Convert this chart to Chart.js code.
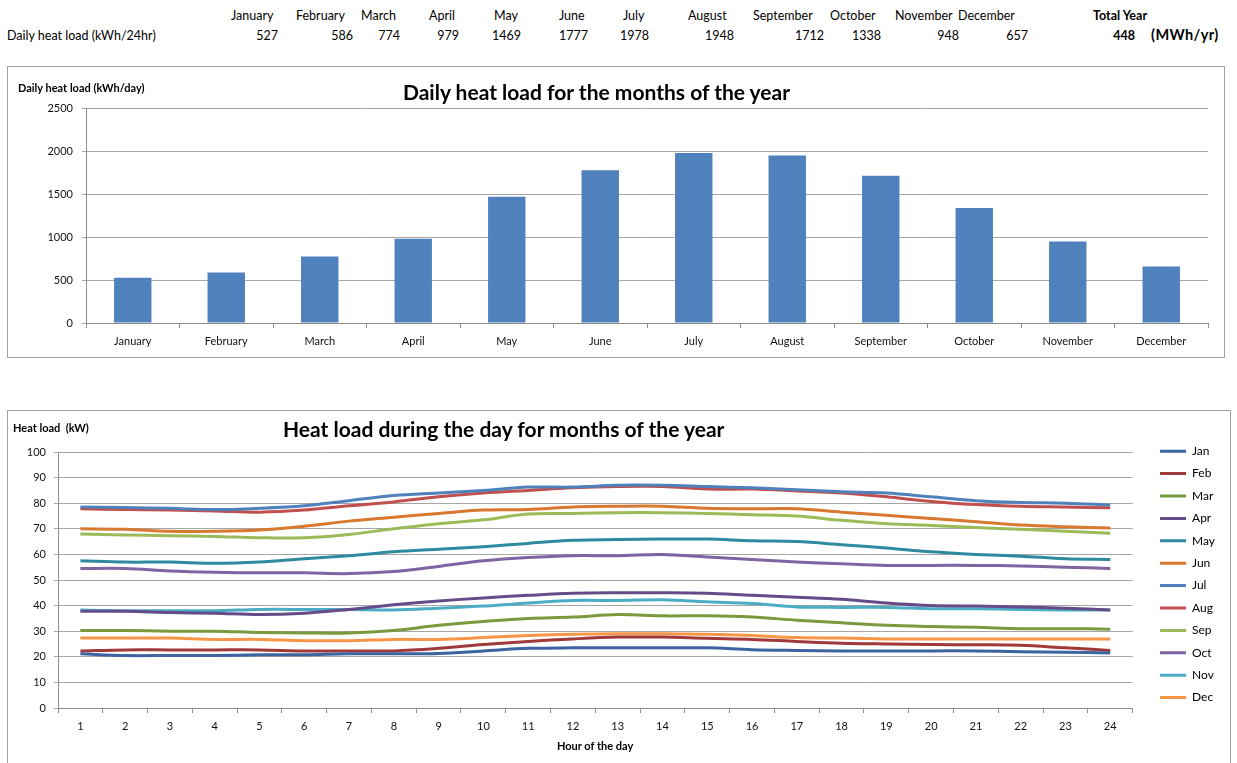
<!DOCTYPE html>
<html>
<head>
<meta charset="utf-8">
<script src="https://cdn.jsdelivr.net/npm/chart.js@4.4.1/dist/chart.umd.min.js"></script>
<style>
  body { margin: 0; background: #fff; font-family: Lato, "Open Sans", sans-serif; color: #000; }
  .abs { position: absolute; white-space: nowrap; }
  .box { position: absolute; border: 1px solid #a0a0a0; background: #fff; }
  .box canvas { position: absolute; left: 0; top: 0; }
  .cell { font-size: 12.5px; }
  .bold { font-weight: bold; }
</style>
</head>
<body>
<div id="table"></div>

<div class="box" style="left:7px; top:66px; width:1216px; height:290px;">
  <canvas id="barChart" width="1216" height="290"></canvas>
</div>
<div class="abs bold" style="left:18px; top:81px; font-size:11px;">Daily heat load (kWh/day)</div>
<div class="abs bold" style="left:403px; top:79px; font-size:21px;">Daily heat load for the months of the year</div>

<div class="box" style="left:7px; top:410px; width:1222px; height:360px;">
  <canvas id="lineChart" width="1222" height="352"></canvas>
</div>
<div class="abs bold" style="left:13px; top:421px; font-size:11px;">Heat load&nbsp; (kW)</div>
<div class="abs bold" style="left:283px; top:416px; font-size:21px;">Heat load during the day for months of the year</div>
<div class="abs bold" style="left:557px; top:739px; font-size:11px;">Hour of the day</div>

<script>
// monthly data
const months = ['January', 'February', 'March', 'April', 'May', 'June', 'July', 'August', 'September', 'October', 'November', 'December'];
const dailyLoad = [527, 586, 774, 979, 1469, 1777, 1978, 1948, 1712, 1338, 948, 657];
const totalYear = 448;

// hourly data (kW)
const hours = ['1', '2', '3', '4', '5', '6', '7', '8', '9', '10', '11', '12', '13', '14', '15', '16', '17', '18', '19', '20', '21', '22', '23', '24'];
const seriesNames = ['Jan', 'Feb', 'Mar', 'Apr', 'May', 'Jun', 'Jul', 'Aug', 'Sep', 'Oct', 'Nov', 'Dec'];
const jan = [21.2, 20.5, 20.5, 20.5, 20.8, 20.8, 21.2, 21.2, 21.3, 22.3, 23.3, 23.5, 23.5, 23.5, 23.5, 22.8, 22.5, 22.3, 22.3, 22.3, 22.3, 22.0, 21.8, 21.5];
const feb = [22.3, 22.7, 22.7, 22.7, 22.7, 22.3, 22.3, 22.3, 23.3, 24.8, 26.0, 27.0, 27.7, 27.7, 27.2, 26.8, 26.0, 25.3, 25.0, 24.8, 24.7, 24.5, 23.5, 22.5];
const mar = [30.3, 30.3, 30.0, 30.0, 29.5, 29.3, 29.3, 30.3, 32.3, 33.8, 35.0, 35.5, 36.5, 36.0, 36.0, 35.5, 34.3, 33.3, 32.3, 31.8, 31.5, 31.0, 31.0, 30.8];
const apr = [37.8, 37.8, 37.3, 37.0, 36.5, 37.0, 38.5, 40.3, 41.8, 43.0, 44.0, 44.8, 45.0, 45.0, 44.8, 44.0, 43.3, 42.5, 41.0, 40.0, 39.8, 39.5, 39.0, 38.3];
const may = [57.5, 57.0, 57.0, 56.5, 57.0, 58.3, 59.5, 61.0, 62.0, 63.0, 64.3, 65.5, 65.8, 66.0, 66.0, 65.3, 65.0, 63.8, 62.5, 61.0, 60.0, 59.3, 58.3, 58.0];
const jun = [70.0, 69.8, 69.0, 69.0, 69.5, 71.0, 73.0, 74.5, 76.0, 77.3, 77.5, 78.5, 78.8, 78.8, 78.0, 77.8, 77.8, 76.5, 75.3, 74.0, 72.8, 71.5, 70.8, 70.3];
const jul = [78.5, 78.3, 78.0, 77.5, 78.0, 79.0, 81.0, 83.0, 84.0, 85.0, 86.3, 86.3, 87.0, 87.0, 86.5, 86.0, 85.3, 84.5, 84.0, 82.5, 81.0, 80.3, 80.0, 79.3];
const aug = [77.8, 77.5, 77.3, 77.0, 76.5, 77.3, 79.0, 80.5, 82.5, 84.0, 85.0, 86.0, 86.5, 86.5, 85.5, 85.5, 84.8, 84.0, 82.5, 80.7, 79.5, 78.8, 78.5, 78.2];
const sep = [68.0, 67.6, 67.3, 67.0, 66.5, 66.5, 67.8, 70.0, 72.0, 73.5, 75.8, 76.0, 76.3, 76.3, 76.0, 75.5, 75.0, 73.3, 72.0, 71.3, 70.5, 69.8, 69.0, 68.3];
const oct = [54.5, 54.5, 53.5, 53.0, 52.8, 52.8, 52.5, 53.3, 55.3, 57.5, 58.8, 59.5, 59.5, 60.0, 59.0, 58.0, 57.0, 56.3, 55.7, 55.7, 55.7, 55.5, 55.0, 54.5];
const nov = [38.3, 38.0, 38.0, 38.0, 38.5, 38.5, 38.5, 38.3, 39.0, 39.8, 41.0, 42.0, 42.0, 42.3, 41.5, 40.8, 39.5, 39.3, 39.3, 38.8, 38.8, 38.5, 38.3, 38.3];
const dec = [27.3, 27.3, 27.3, 26.8, 26.8, 26.3, 26.3, 26.8, 26.8, 27.5, 28.3, 28.8, 29.0, 29.0, 28.8, 28.3, 27.5, 27.3, 27.0, 27.0, 27.0, 27.0, 27.0, 27.0];

const seriesValues = [jan, feb, mar, apr, may, jun, jul, aug, sep, oct, nov, dec];
const seriesColors = ['#3b64a0', '#a0393a', '#7a9a3e', '#654c88', '#2f8aa0', '#d9782f',
                      '#4f81bd', '#c0504d', '#9bbb59', '#8064a2', '#4bacc6', '#f79646'];

// top table (header left edges, value right edges)
const headX = [231, 296, 361, 429, 494, 559, 623, 688, 753, 830, 895, 958];
const valRight = [278, 353, 400, 459, 521, 588, 649, 734, 824, 881, 959, 1028];
let html = '<div class="abs cell" style="left:7px; top:28px;">Daily heat load (kWh/24hr)</div>';
months.forEach((m, i) => {
  html += '<div class="abs cell" style="left:' + headX[i] + 'px; top:8px;">' + m + '</div>';
  html += '<div class="abs cell" style="right:' + (1237 - valRight[i]) + 'px; top:28px;">' + dailyLoad[i] + '</div>';
});
html += '<div class="abs cell bold" style="left:1093px; top:8px;">Total Year</div>';
html += '<div class="abs cell bold" style="right:' + (1237 - 1135) + 'px; top:28px;">' + totalYear + '</div>';
html += '<div class="abs bold" style="left:1151px; top:26px; font-size:14.5px; letter-spacing:0.4px;">(MWh/yr)</div>';
document.getElementById('table').innerHTML = html;

Chart.defaults.font.family = 'Lato, "Open Sans", sans-serif';
Chart.defaults.color = '#111';

const gridColor = '#a6a6a6';
const axisColor = '#8c8c8c';
const plain = v => String(v);

new Chart(document.getElementById('barChart').getContext('2d'), {
  type: 'bar',
  data: {
    labels: months,
    datasets: [{
      label: 'Daily heat load',
      data: dailyLoad,
      backgroundColor: '#4f81bd',
      barPercentage: 0.4,
      categoryPercentage: 1
    }]
  },
  options: {
    responsive: false,
    animation: false,
    layout: { padding: { top: 41, right: 16, left: 0, bottom: 0 } },
    plugins: { legend: { display: false }, tooltip: { enabled: false } },
    scales: {
      x: {
        grid: { drawOnChartArea: false, tickLength: 5, color: axisColor, offset: true },
        border: { color: axisColor },
        ticks: { font: { size: 11 }, padding: 7, maxRotation: 0 },
        afterFit: s => { s.height = 34; }
      },
      y: {
        min: 0, max: 2500,
        ticks: { stepSize: 500, font: { size: 11 }, padding: 9, callback: plain },
        grid: { color: gridColor, tickLength: 4 },
        border: { color: axisColor },
        afterFit: s => { s.width = 78; }
      }
    }
  }
});

// place the legend like the spreadsheet does: a bit right of the plot, level with its top
const legendPlace = {
  id: 'legendPlace',
  afterLayout(chart) {
    const lg = chart.legend;
    const dx = 17;
    const dy = chart.chartArea.top - 12 - lg.top - (lg.height - lg.columnSizes[0].height) / 2;
    lg.left += dx; lg.right += dx;
    lg.top += dy; lg.bottom += dy;
  }
};

new Chart(document.getElementById('lineChart').getContext('2d'), {
  type: 'line',
  data: {
    labels: hours,
    datasets: seriesNames.map((name, i) => ({
      label: name,
      data: seriesValues[i],
      borderColor: seriesColors[i],
      backgroundColor: seriesColors[i],
      borderWidth: 3,
      pointRadius: 0,
      pointStyle: 'line',
      tension: 0.35,
      fill: false
    }))
  },
  options: {
    responsive: false,
    animation: false,
    layout: { padding: { top: 41, right: 22, left: 0, bottom: 0 } },
    plugins: {
      tooltip: { enabled: false },
      legend: {
        position: 'right',
        labels: {
          usePointStyle: true,
          pointStyleWidth: 26,
          font: { size: 12 },
          color: '#000',
          padding: 10.4
        }
      }
    },
    scales: {
      x: {
        offset: true,
        grid: { drawOnChartArea: false, tickLength: 5, color: axisColor, offset: true },
        border: { color: axisColor },
        ticks: { font: { size: 11 }, padding: 7, maxRotation: 0 },
        afterFit: s => { s.height = 55; }
      },
      y: {
        min: 0, max: 100,
        ticks: { stepSize: 10, font: { size: 11 }, padding: 8, callback: plain },
        grid: { color: gridColor, tickLength: 4 },
        border: { color: axisColor },
        afterFit: s => { s.width = 50; }
      }
    }
  },
  plugins: [legendPlace]
});
</script>
</body>
</html>
